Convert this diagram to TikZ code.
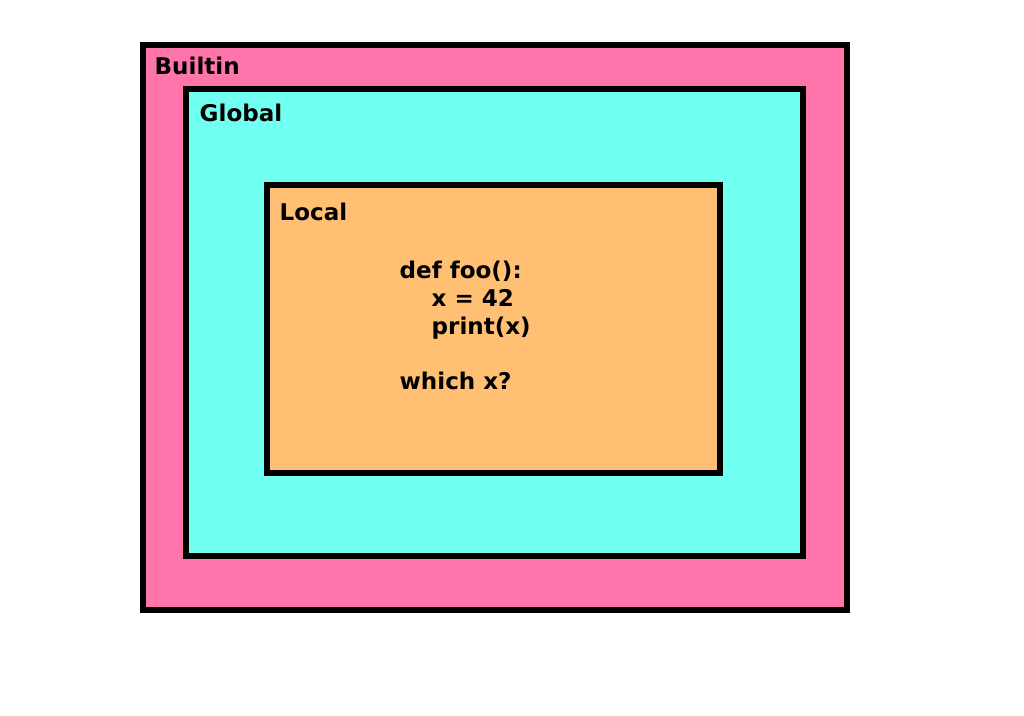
\documentclass[tikz,border=0pt]{standalone}
\usepackage{fontspec}
\setmainfont{DejaVu Sans}
\definecolor{builtinpink}{RGB}{255,117,171}
\definecolor{globalcyan}{RGB}{112,255,240}
\definecolor{localorange}{RGB}{255,192,115}
\begin{document}
\begin{tikzpicture}[
    % Styles
    scopebox/.style={draw=black, line width=0.058cm, inner sep=0pt},
    scopelabel/.style={anchor=base west, inner sep=0pt, font=\fontsize{6.55}{7.9}\selectfont\bfseries},
    codetext/.style={anchor=north west, inner sep=0pt, align=left, font=\fontsize{6.55}{7.9}\selectfont\bfseries},
]
\useasboundingbox (0,0) rectangle (10.24,7.16);

% Nested scopes
\node[scopebox, fill=builtinpink, minimum width=7.04cm, minimum height=5.65cm] (builtin) at (4.95, 3.885) {};
\node[scopebox, fill=globalcyan, minimum width=6.17cm, minimum height=4.67cm] (global) at (4.945, 3.935) {};
\node[scopebox, fill=localorange, minimum width=4.53cm, minimum height=2.88cm] (local) at (4.935, 3.87) {};

% Scope names
\node[scopelabel] (builtinname) at (1.54, 6.41) {Builtin};
\node[scopelabel] (globalname) at (1.99, 5.945) {Global};
\node[scopelabel] (localname) at (2.79, 4.955) {Local};

% Code
\node[codetext] (code) at (3.99, 4.555) {def foo():\\\hspace*{0.32cm}x = 42\\\hspace*{0.32cm}print(x)\\[7.9pt]which x?};

\end{tikzpicture}
\end{document}
